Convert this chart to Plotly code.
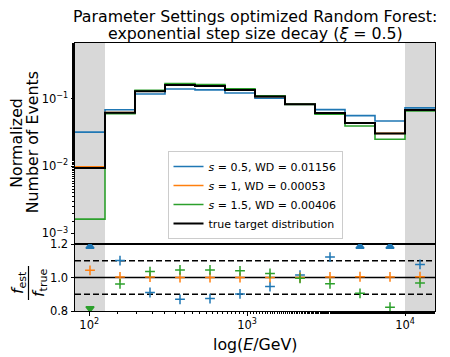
import plotly.graph_objects as go

# ---------------- data ----------------
LOG10_E_EDGES = [1.91, 2.10, 2.29, 2.48, 2.67, 2.86, 3.05, 3.24, 3.43, 3.62, 3.81, 4.00, 4.19]
TRUE_DIST = [0.0094, 0.0622, 0.1294, 0.1607, 0.1550, 0.1350, 0.1080, 0.0828, 0.0614, 0.0435, 0.0305, 0.0680]
EST_S05 = [0.0320, 0.0685, 0.1178, 0.1398, 0.1355, 0.1218, 0.1022, 0.0840, 0.0689, 0.0561, 0.0467, 0.0733]
EST_S1 = [0.0098, 0.0624, 0.1297, 0.1607, 0.1550, 0.1350, 0.1080, 0.0828, 0.0616, 0.0437, 0.0306, 0.0683]
EST_S15 = [0.00163, 0.0598, 0.1340, 0.1680, 0.1620, 0.1404, 0.1106, 0.0824, 0.0591, 0.0394, 0.0251, 0.0658]

SERIES_LABELS = ["<i>s</i> = 0.5, WD = 0.01156",
                 "<i>s</i> = 1, WD = 0.00053",
                 "<i>s</i> = 1.5, WD = 0.00406"]
TRUE_LABEL = "true target distribution"
SERIES_COLORS = ["#1f77b4", "#ff7f0e", "#2ca02c"]

Y_TOP_TICKS = [1e-3, 1e-2, 1e-1]
Y_TOP_TICKTEXT = ["10<sup>−3</sup>", "10<sup>−2</sup>", "10<sup>−1</sup>"]
X_TICKS = [1e2, 1e3, 1e4]
X_TICKTEXT = ["10<sup>2</sup>", "10<sup>3</sup>", "10<sup>4</sup>"]
RATIO_TICKS = [0.8, 1.0, 1.2]
RATIO_TICKTEXT = ["0.8", "1.0", "1.2"]
RATIO_LINES = [0.9, 1.0, 1.1]

TITLE_LINES = ["Parameter Settings optimized Random Forest:",
               "exponential step size decay (<i>ξ</i> = 0.5)"]
FONT = "DejaVu Sans"

# ---------------- geometry (window pixels; page body has an 8px margin) ----------------
OFF = 8
W, H = 450 - OFF, 357 - OFF
X0, X1, Y0, Y1 = 75, 435, 43, 311          # plot area in window pixels
L, T = X0 - OFF, Y0 - OFF
R, B = W - (X1 - OFF), H - (Y1 - OFF)
PW, PH = X1 - X0, Y1 - Y0


def px(xp):
    return (xp - X0) / PW


def py(yp):
    return (Y1 - yp) / PH


edges = [10 ** e for e in LOG10_E_EDGES]
centers = [10 ** ((LOG10_E_EDGES[i] + LOG10_E_EDGES[i + 1]) / 2) for i in range(len(LOG10_E_EDGES) - 1)]
RLO, RHI = 0.8, 1.2

fig = go.Figure()

# histogram steps (top panel)
for vals, lab, col in zip([EST_S05, EST_S1, EST_S15], SERIES_LABELS, SERIES_COLORS):
    fig.add_trace(go.Scatter(x=edges, y=vals + [vals[-1]], mode="lines", line_shape="hv",
                             line=dict(color=col, width=1.6), name=lab, xaxis="x", yaxis="y"))
fig.add_trace(go.Scatter(x=edges, y=TRUE_DIST + [TRUE_DIST[-1]], mode="lines", line_shape="hv",
                         line=dict(color="black", width=2), name=TRUE_LABEL, xaxis="x", yaxis="y"))

# ratio markers (bottom panel)
for vals, col in zip([EST_S05, EST_S1, EST_S15], SERIES_COLORS):
    ratio = [v / t for v, t in zip(vals, TRUE_DIST)]
    ys, syms = [], []
    for r in ratio:
        if r > RHI:
            ys.append(RHI - 0.015)
            syms.append("triangle-up")
        elif r < RLO:
            ys.append(RLO + 0.015)
            syms.append("triangle-down")
        else:
            ys.append(r)
            syms.append("cross-thin")
    fig.add_trace(go.Scatter(x=centers, y=ys, mode="markers", showlegend=False,
                             marker=dict(symbol=syms, size=7, color=col,
                                         line=dict(color=col, width=1.5)),
                             xaxis="x2", yaxis="y2"))

shapes = []
for ya in ["y", "y2"]:
    xa = "x" if ya == "y" else "x2"
    for x0, x1 in [(edges[0], edges[1]), (edges[-2], edges[-1])]:
        shapes.append(dict(type="rect", xref=xa, yref=ya + " domain", x0=x0, x1=x1, y0=0, y1=1,
                           fillcolor="#d8d8d8", line=dict(width=0), layer="below"))
for v in RATIO_LINES:
    shapes.append(dict(type="line", xref="x2 domain", yref="y2", x0=0, x1=1, y0=v, y1=v,
                       line=dict(color="black", width=1.5,
                                 dash="solid" if v == 1.0 else "6px,3px"), layer="below"))
# fraction bar of the ratio label
shapes.append(dict(type="line", xref="paper", yref="paper", x0=px(28.5), x1=px(28.5),
                   y0=py(266), y1=py(300), line=dict(color="black", width=1.2)))

ann = []
ann.append(dict(text=TITLE_LINES[0], x=0.5, y=py(16.7), xref="paper", yref="paper",
                showarrow=False, xanchor="center", yanchor="middle", font=dict(size=15.8)))
ann.append(dict(text=TITLE_LINES[1], x=0.5, y=py(33.3), xref="paper", yref="paper",
                showarrow=False, xanchor="center", yanchor="middle", font=dict(size=15.8)))
ann.append(dict(text="Normalized", x=px(16.2), y=py(142.5), xref="paper", yref="paper",
                showarrow=False, xanchor="center", yanchor="middle", textangle=-90, font=dict(size=15.8)))
ann.append(dict(text="Number of Events", x=px(32.8), y=py(142.5), xref="paper", yref="paper",
                showarrow=False, xanchor="center", yanchor="middle", textangle=-90, font=dict(size=15.8)))
ann.append(dict(text="<i>f</i><sub>est</sub>", x=px(18), y=py(283), xref="paper", yref="paper",
                showarrow=False, xanchor="center", yanchor="middle", textangle=-90, font=dict(size=15.8)))
ann.append(dict(text="<i>f</i><sub>true</sub>", x=px(39), y=py(283), xref="paper", yref="paper",
                showarrow=False, xanchor="center", yanchor="middle", textangle=-90, font=dict(size=15.8)))
ann.append(dict(text="log(<i>E</i>/GeV)", x=0.5, y=py(344), xref="paper", yref="paper",
                showarrow=False, xanchor="center", yanchor="middle", font=dict(size=15.8)))

axis_common = dict(showline=True, linecolor="black", linewidth=1, mirror=True, showgrid=False,
                   zeroline=False, ticks="outside", ticklen=3.5, tickwidth=1, tickcolor="black",
                   tickfont=dict(size=11.5, color="black"))
minor_log = dict(ticks="outside", ticklen=2, tickwidth=0.8, tickcolor="black", showgrid=False)

fig.update_layout(
    width=W, height=H, margin=dict(l=L, r=R, t=T, b=B),
    paper_bgcolor="white", plot_bgcolor="rgba(0,0,0,0)",
    font=dict(family=FONT, color="black"),
    xaxis=dict(axis_common, type="log", range=[LOG10_E_EDGES[0], LOG10_E_EDGES[-1]], domain=[0, 1],
               anchor="y", showticklabels=False, ticks="", matches="x2"),
    yaxis=dict(axis_common, type="log", range=[-3.157, -0.172], domain=[0.25, 1], anchor="x",
               tickvals=Y_TOP_TICKS, ticktext=Y_TOP_TICKTEXT, minor=minor_log),
    xaxis2=dict(axis_common, type="log", range=[LOG10_E_EDGES[0], LOG10_E_EDGES[-1]], domain=[0, 1],
                anchor="y2", tickvals=X_TICKS, ticktext=X_TICKTEXT, minor=minor_log),
    yaxis2=dict(axis_common, range=[RLO, RHI], domain=[0, 0.25], anchor="x2",
                tickvals=RATIO_TICKS, ticktext=RATIO_TICKTEXT),
    legend=dict(x=0.5, xanchor="center", y=py(239), yanchor="bottom",
                bgcolor="rgba(255,255,255,0.8)", bordercolor="#cccccc", borderwidth=1,
                font=dict(size=11), itemwidth=30),
    shapes=shapes, annotations=ann,
)

fig.write_html("out.html")
